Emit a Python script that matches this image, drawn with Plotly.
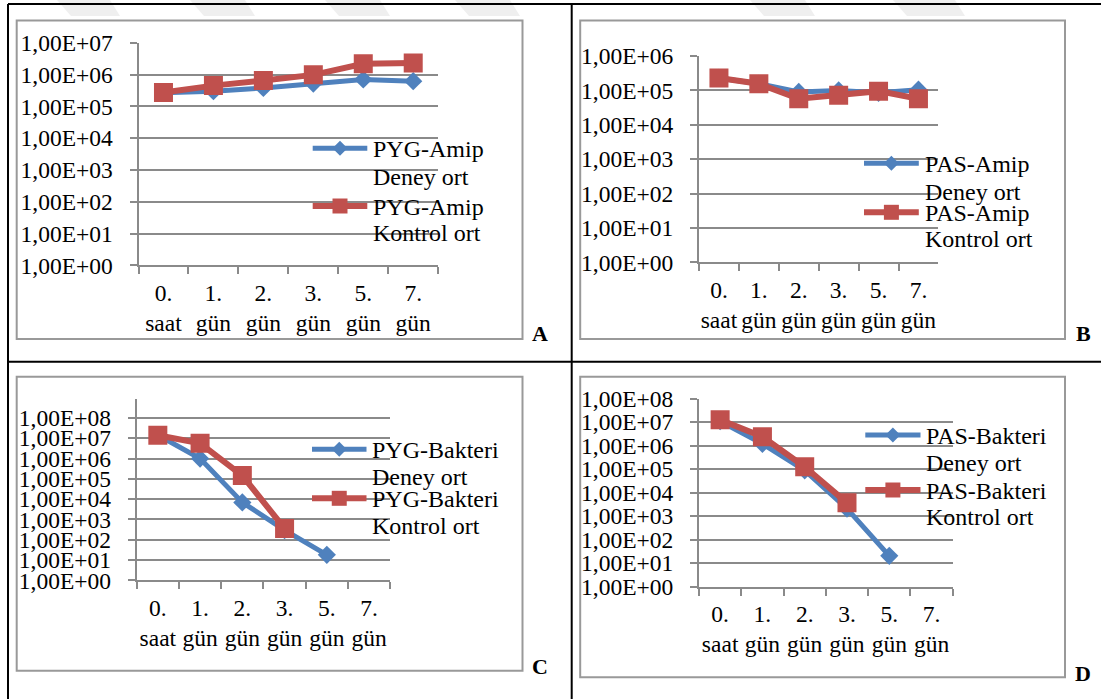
import plotly.graph_objects as go

W, H = 1101, 699

# ---------------- data ----------------
categories = ["0.<br>saat", "1.<br>gün", "2.<br>gün", "3.<br>gün", "5.<br>gün", "7.<br>gün"]

a_deney = [2.7e5, 3.0e5, 3.8e5, 5.2e5, 7.0e5, 6.2e5]
a_kontrol = [2.75e5, 4.5e5, 6.5e5, 9.8e5, 2.2e6, 2.3e6]
a_names = ["PYG-Amip Deney ort", "PYG-Amip Kontrol ort"]

b_deney = [2.3e5, 1.56e5, 9.0e4, 1.0e5, 8.5e4, 1.05e5]
b_kontrol = [2.3e5, 1.56e5, 5.7e4, 7.2e4, 9.5e4, 5.7e4]
b_names = ["PAS-Amip Deney ort", "PAS-Amip Kontrol ort"]

c_deney = [1.45e7, 1.0e6, 6.9e3, 3.0e2, 1.8e1, None]
c_kontrol = [1.4e7, 5.6e6, 1.45e5, 3.6e2, None, None]
c_names = ["PYG-Bakteri Deney ort", "PYG-Bakteri Kontrol ort"]

d_deney = [1.1e7, 1.2e6, 9.0e4, 2.1e3, 2.06e1, None]
d_kontrol = [1.26e7, 2.4e6, 1.26e5, 3.7e3, None, None]
d_names = ["PAS-Bakteri Deney ort", "PAS-Bakteri Kontrol ort"]

tick_vals = [10 ** k for k in range(9)]
tick_text = ["1,00E+0%d" % k for k in range(9)]

BLUE = "#4F81BD"
RED = "#C0504D"
GRID = "#8a8a8a"
FRAME = "#999999"
FONT = "'Liberation Serif', 'Times New Roman', Times, serif"
FS_TICK = 23.5
FS_LEG = 24


def px(x):
    return x / W


def py(y):
    return 1 - y / H


fig = go.Figure()

panels = [
    # key, deney, kontrol, names, x-domain(px), y-domain(px top,bottom), ymax decade, nticks
    ("", a_deney, a_kontrol, a_names, (138.5, 438.2), (42.8, 265.3), 7, 8),
    ("2", b_deney, b_kontrol, b_names, (699, 938.4), (56, 262.3), 6, 7),
    ("3", c_deney, c_kontrol, c_names, (136.7, 390.2), (399.3, 580.3), 8.92, 9),
    ("4", d_deney, d_kontrol, d_names, (699, 952.7), (398.7, 586.7), 8, 9),
]

for key, dy, ky, names, xd, yd, ymax, nt in panels:
    xa = "x" + key
    ya = "y" + key
    fig.add_trace(go.Scatter(
        x=categories, y=dy, xaxis=xa, yaxis=ya, name=names[0],
        mode="lines+markers", showlegend=False,
        line=dict(color=BLUE, width=5),
        marker=dict(symbol="diamond", size=14, color=BLUE, line=dict(width=0)),
        connectgaps=False,
    ))
    fig.add_trace(go.Scatter(
        x=categories, y=ky, xaxis=xa, yaxis=ya, name=names[1],
        mode="lines+markers", showlegend=False,
        line=dict(color=RED, width=6),
        marker=dict(symbol="square", size=19, color=RED, line=dict(width=0)),
        connectgaps=False,
    ))
    xname = "xaxis" + key
    yname = "yaxis" + key
    fig.update_layout(**{
        xname: dict(
            domain=[px(xd[0]), px(xd[1])], anchor=ya, type="category",
            categoryorder="array", categoryarray=categories,
            range=[-0.5, 5.5], tickson="boundaries", ticks="outside",
            ticklen=7, tickwidth=2, tickcolor=GRID, tickangle=0,
            showline=True, linecolor=GRID, linewidth=2, automargin=False,
            showgrid=False, zeroline=False, fixedrange=True,
            tickfont=dict(family=FONT, size=FS_TICK, color="black"),
            ticklabelstandoff=5,
        ),
        yname: dict(
            domain=[py(yd[1]), py(yd[0])], anchor=xa, type="log",
            range=[0, ymax], tickvals=tick_vals[:nt], ticktext=tick_text[:nt],
            ticks="outside", ticklen=7, tickwidth=2, tickcolor=GRID,
            showline=True, linecolor=GRID, linewidth=2, automargin=False,
            showgrid=True, gridcolor=GRID, gridwidth=2, zeroline=False,
            fixedrange=True,
            tickfont=dict(family=FONT, size=FS_TICK, color="black"),
            ticklabelstandoff=12,
        ),
    })

shapes = []
annotations = []

# faint watermark blobs at the top
for x0, x1 in [(57, 110), (190, 245), (325, 380), (455, 510), (750, 805), (893, 955)]:
    shapes.append(dict(
        type="path", xref="paper", yref="paper", layer="below",
        path="M %f,%f L %f,%f L %f,%f L %f,%f Z" % (
            px(x0), py(0), px(x1), py(0), px(x1 + 10), py(16), px(x0 + 14), py(16)),
        fillcolor="#efefef", line=dict(width=0),
    ))

# chart frames
for (x0, y0, x1, y1) in [(16.7, 20.5, 522.5, 339), (580.2, 20.5, 1065, 339),
                         (16.7, 376.7, 522.5, 670.7), (580.2, 376.7, 1065, 677.3)]:
    shapes.append(dict(type="rect", xref="paper", yref="paper", layer="below",
                       x0=px(x0), x1=px(x1), y0=py(y1), y1=py(y0),
                       line=dict(color=FRAME, width=2), fillcolor="white"))

# table borders
for (x0, y0, x1, y1) in [(8, 4, W, 4), (8, 4, 8, H), (571.7, 4, 571.7, H), (8, 361.7, W, 361.7)]:
    shapes.append(dict(type="line", xref="paper", yref="paper", layer="above",
                       x0=px(x0), x1=px(x1), y0=py(y0), y1=py(y1),
                       line=dict(color="black", width=2)))

# panel letters
for letter, x, y in [("A", 540, 333), ("B", 1083, 333), ("C", 540, 666), ("D", 1083, 673)]:
    annotations.append(dict(text="<b>%s</b>" % letter, x=px(x), y=py(y), xref="paper", yref="paper",
                            showarrow=False, xanchor="center", yanchor="middle",
                            font=dict(family=FONT, size=22, color="black")))

# legends (symbol line + marker + two text lines per entry)
legends = [
    (312.7, 367.3, 370.9, [(148.3, 176.7), (206.0, 233.3)], a_names),
    (864.0, 918.8, 923.0, [(163.3, 191.7), (212.3, 239.3)], b_names),
    (312.0, 366.5, 370.0, [(449.3, 477.3), (498.3, 525.7)], c_names),
    (865.3, 920.5, 924.0, [(435.0, 462.7), (490.0, 516.7)], d_names),
]
for lx0, lx1, tx, ys, names in legends:
    for i, (y1, y2) in enumerate(ys):
        color = BLUE if i == 0 else RED
        lw = 5 if i == 0 else 6
        shapes.append(dict(type="line", xref="paper", yref="paper", layer="above",
                           x0=px(lx0), x1=px(lx1), y0=py(y1), y1=py(y1),
                           line=dict(color=color, width=lw)))
        cx = (lx0 + lx1) / 2
        r = 7.5
        if i == 0:
            path = "M %f,%f L %f,%f L %f,%f L %f,%f Z" % (
                px(cx - r), py(y1), px(cx), py(y1 - r), px(cx + r), py(y1), px(cx), py(y1 + r))
            shapes.append(dict(type="path", xref="paper", yref="paper", layer="above",
                               path=path, fillcolor=color, line=dict(width=0)))
        else:
            shapes.append(dict(type="rect", xref="paper", yref="paper", layer="above",
                               x0=px(cx - r), x1=px(cx + r), y0=py(y1 + r), y1=py(y1 - r),
                               fillcolor=color, line=dict(width=0)))
        words = names[i].split(" ")
        line1 = words[0]
        line2 = " ".join(words[1:])
        for txt, yy in [(line1, y1 + 1), (line2, y2)]:
            annotations.append(dict(text=txt, x=px(tx), y=py(yy), xref="paper", yref="paper",
                                    showarrow=False, xanchor="left", yanchor="middle",
                                    font=dict(family=FONT, size=FS_LEG, color="black")))

fig.update_layout(
    width=W, height=H, margin=dict(l=0, r=0, t=0, b=0, pad=0), autosize=False,
    paper_bgcolor="white", plot_bgcolor="rgba(0,0,0,0)",
    shapes=shapes, annotations=annotations, showlegend=False,
)

fig.write_html("out.html", config={"displayModeBar": False})
